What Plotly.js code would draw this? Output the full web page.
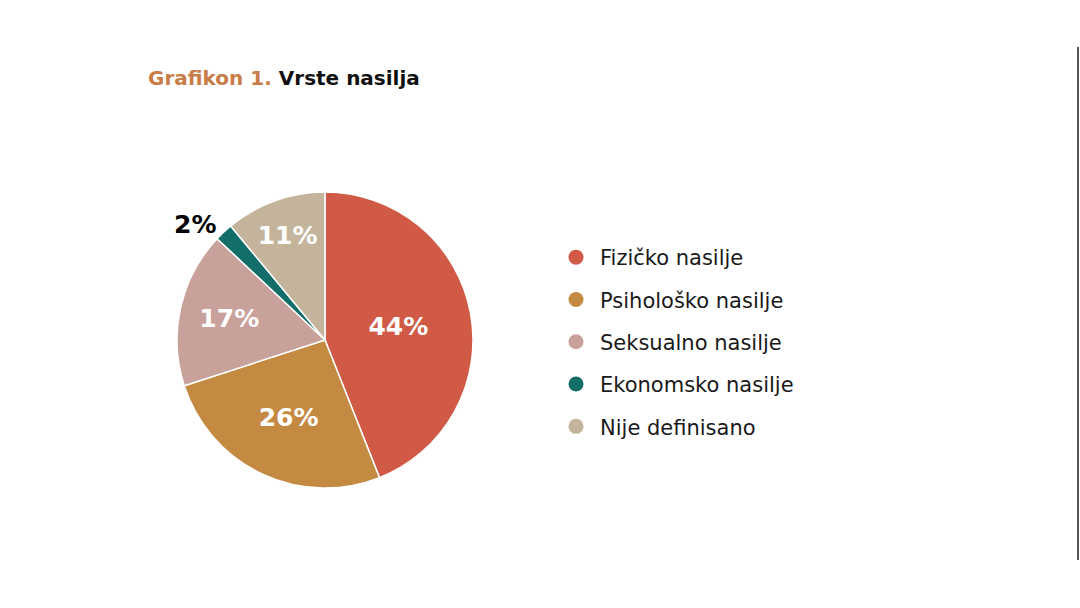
<!DOCTYPE html>
<html>
<head>
<meta charset="utf-8">
<script src="https://cdn.plot.ly/plotly-3.0.1.min.js"></script>
<style>html,body{margin:0;padding:0;background:#fff;}#chart{width:1080px;height:608px;}</style>
</head>
<body>
<div id="chart"></div>
<script>
const categories = ["Fizičko nasilje", "Psihološko nasilje", "Seksualno nasilje", "Ekonomsko nasilje", "Nije definisano"];
const values = [44, 26, 17, 2, 11];
const colors = ["#D05A45", "#C58A42", "#C9A19B", "#136E6A", "#C4B49C"];
const labelPositions = ["inside", "inside", "inside", "outside", "inside"];
const labelColors = ["#ffffff", "#ffffff", "#ffffff", "#000000", "#ffffff"];

const W = 1080, H = 608;
const cx = 325, cy = 340, r = 148;

const traces = [{
  type: "pie",
  labels: categories,
  values: values,
  sort: false,
  direction: "clockwise",
  rotation: 0,
  marker: {colors: colors, line: {color: "#ffffff", width: 1.5}},
  textinfo: "percent",
  texttemplate: "%{value}%",
  textposition: labelPositions,
  insidetextorientation: "horizontal",
  textfont: {family: "'DejaVu Sans', sans-serif", size: 25, color: labelColors, weight: 700},
  outsidetextfont: {family: "'DejaVu Sans', sans-serif", size: 25, color: "#000000", weight: 700},
  showlegend: false,
  hoverinfo: "label+percent",
  domain: {x: [(cx - r) / W, (cx + r) / W], y: [1 - (cy + r) / H, 1 - (cy - r) / H]}
}];

categories.forEach((c, i) => {
  traces.push({
    type: "scatter",
    mode: "markers",
    x: [null], y: [null],
    name: c,
    legendgroup: "g" + i,
    marker: {color: colors[i], size: 15, symbol: "circle"},
    showlegend: true,
    hoverinfo: "skip"
  });
});

const layout = {
  width: W, height: H,
  margin: {l: 0, r: 0, t: 0, b: 0},
  paper_bgcolor: "#ffffff",
  plot_bgcolor: "#ffffff",
  xaxis: {visible: false, domain: [0.9, 0.91]},
  yaxis: {visible: false, domain: [0.9, 0.91]},
  title: {
    text: '<b><span style="color:#C87D48">Grafikon 1.</span> Vrste nasilja</b>',
    font: {family: "'DejaVu Sans', sans-serif", size: 20, color: "#111111"},
    x: 148 / W, xanchor: "left", xref: "paper",
    y: 1 - 78 / H, yanchor: "middle", yref: "container"
  },
  legend: {
    x: 552 / W, xanchor: "left",
    y: 1 - 237 / H, yanchor: "top",
    font: {family: "'DejaVu Sans', sans-serif", size: 21, color: "#1a1a1a"},
    itemwidth: 38,
    tracegroupgap: 12,
    itemclick: false
  },
  shapes: [{
    type: "line", xref: "paper", yref: "paper",
    x0: 1078 / W, x1: 1078 / W, y0: 1 - 47 / H, y1: 1 - 560 / H,
    line: {color: "#555555", width: 2}
  }]
};

Plotly.newPlot("chart", traces, layout, {displayModeBar: false, staticPlot: true});
</script>
</body>
</html>
